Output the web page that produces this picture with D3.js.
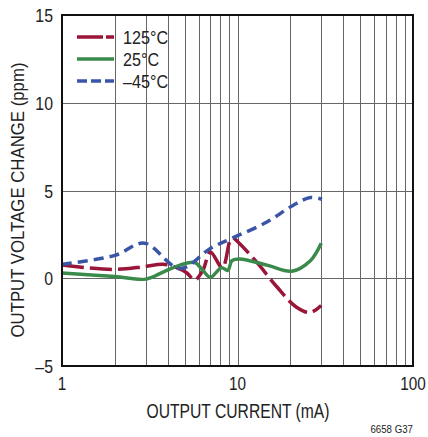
<!DOCTYPE html>
<head>
    <meta charset="utf-8">
    <script src="https://d3js.org/d3.v7.min.js"></script>
    <style>
        body { margin:0; background:#fff; }
        text { font-family: 'Liberation Sans', Arial, sans-serif; fill:#222; }
        .grid line { stroke:#666; stroke-width:1; }
        .frame { fill:none; stroke:#111; stroke-width:2; }
        .curve { fill:none; stroke-width:3.5; }
    </style>
</head>
<body>
  <script>
    // data
    const current125 = [1, 1.95, 2.9, 3.77, 4.5, 5.15, 5.7, 6.35, 7.0, 8.2, 9.07, 9.4, 10.1, 12.9, 16.8, 21.7, 26, 30];
    const change125  = [0.75, 0.5, 0.65, 0.8, 0.6, 0.3, -0.1, 0.45, 1.5, 0.6, 2.15, 2.3, 2.05, 0.9, -0.5, -1.65, -1.95, -1.55];

    const current25 = [1, 2, 3, 3.77, 4.7, 5.7, 6.35, 7.0, 8.1, 8.8, 9.3, 10.3, 14.7, 20.4, 26, 30];
    const change25  = [0.3, 0.1, -0.05, 0.35, 0.75, 0.9, 0.45, 0.05, 0.6, 0.45, 1.0, 1.1, 0.75, 0.4, 1.0, 2.0];

    const currentM45 = [1, 2, 2.95, 4.7, 7.0, 9.4, 14.7, 20.7, 26, 30.3];
    const changeM45  = [0.8, 1.3, 2.0, 0.55, 1.7, 2.3, 3.2, 4.15, 4.6, 4.5];

    const yTicks = [-5, 0, 5, 10, 15];
    const xTicks = [1, 10, 100];
    const xGrid = [2, 3, 4, 5, 6, 7, 8, 9, 20, 30, 40, 50, 60, 70, 80, 90];

    const series = [
        {label: '125°C', xs: current125, ys: change125, color: '#9a1538', dash: '22,6', legendDash: '26,3'},
        {label: '25°C', xs: current25, ys: change25, color: '#3a8a4c', dash: null, legendDash: null},
        {label: '\u201345°C', xs: currentM45, ys: changeM45, color: '#3a55a6', dash: '10,6', legendDash: '10,4'}
    ];

    const width = 428, height = 437;
    const margins = {top: 15, right: 15, bottom: 71, left: 62};
    const innerWidth = width - margins.left - margins.right;
    const innerHeight = height - margins.top - margins.bottom;

    const xScale = d3.scaleLog().domain([1, 100]).range([0, innerWidth]);
    const yScale = d3.scaleLinear().domain([-5, 15]).range([innerHeight, 0]);

    const svg = d3.select('body').append('svg')
        .attr('width', width)
        .attr('height', height);

    const inner = svg.append('g')
        .attr('transform', `translate(${margins.left},${margins.top})`);

    // squeeze glyphs to mimic the condensed face of the original
    function condense(sel, f) {
        sel.each(function() {
            const w = this.getComputedTextLength();
            d3.select(this)
                .attr('textLength', w * f)
                .attr('lengthAdjust', 'spacingAndGlyphs');
        });
    }

    const grid = inner.append('g').attr('class', 'grid');
    grid.selectAll('.vx')
        .data(xGrid.concat([10]))
        .enter().append('line')
        .attr('x1', d => Math.round(xScale(d)) + 0.5)
        .attr('x2', d => Math.round(xScale(d)) + 0.5)
        .attr('y1', 0)
        .attr('y2', innerHeight);
    grid.selectAll('.hy')
        .data([0, 5, 10])
        .enter().append('line')
        .attr('x1', 0)
        .attr('x2', innerWidth)
        .attr('y1', d => Math.round(yScale(d)) + 0.5)
        .attr('y2', d => Math.round(yScale(d)) + 0.5);

    const line = d3.line()
        .x(d => xScale(d[0]))
        .y(d => yScale(d[1]))
        .curve(d3.curveCatmullRom.alpha(0.5));

    series.forEach(s => {
        inner.append('path')
            .datum(s.xs.map((x, i) => [x, s.ys[i]]))
            .attr('class', 'curve')
            .attr('stroke', s.color)
            .attr('stroke-dasharray', s.dash)
            .attr('d', line);
    });

    inner.append('rect')
        .attr('class', 'frame')
        .attr('width', innerWidth)
        .attr('height', innerHeight);

    // legend
    const legend = inner.append('g').attr('transform', 'translate(15,22)');
    series.forEach((s, i) => {
        legend.append('line')
            .attr('x1', 0).attr('x2', 37)
            .attr('y1', i * 22).attr('y2', i * 22)
            .attr('stroke', s.color)
            .attr('stroke-width', 3.5)
            .attr('stroke-dasharray', s.legendDash);
        legend.append('text')
            .attr('x', 46).attr('y', i * 22 + 7)
            .attr('font-size', 19)
            .text(s.label)
            .call(condense, 0.85);
    });

    // axes labels
    inner.selectAll('.ylab')
        .data(yTicks)
        .enter().append('text')
        .attr('x', -9)
        .attr('y', d => yScale(d) + 7)
        .attr('text-anchor', 'end')
        .attr('font-size', 18)
        .text(d => d < 0 ? '\u2013' + Math.abs(d) : d)
        .call(condense, 0.88);

    inner.selectAll('.xlab')
        .data(xTicks)
        .enter().append('text')
        .attr('x', d => xScale(d))
        .attr('y', innerHeight + 24)
        .attr('text-anchor', 'middle')
        .attr('font-size', 18)
        .text(d => d)
        .call(condense, 0.85);

    inner.append('text')
        .attr('x', 238 - margins.left)
        .attr('y', innerHeight + 52)
        .attr('text-anchor', 'middle')
        .attr('font-size', 20)
        .text('OUTPUT CURRENT (mA)')
        .attr('textLength', 183)
        .attr('lengthAdjust', 'spacingAndGlyphs');

    svg.append('text')
        .attr('transform', 'translate(24,200) rotate(-90)')
        .attr('text-anchor', 'middle')
        .attr('font-size', 19)
        .text('OUTPUT VOLTAGE CHANGE (ppm)')
        .attr('textLength', 275)
        .attr('lengthAdjust', 'spacingAndGlyphs');

    svg.append('text')
        .attr('x', 413)
        .attr('y', 433)
        .attr('text-anchor', 'end')
        .attr('font-size', 11)
        .text('6658 G37')
        .call(condense, 0.88);
  </script>
</body>
